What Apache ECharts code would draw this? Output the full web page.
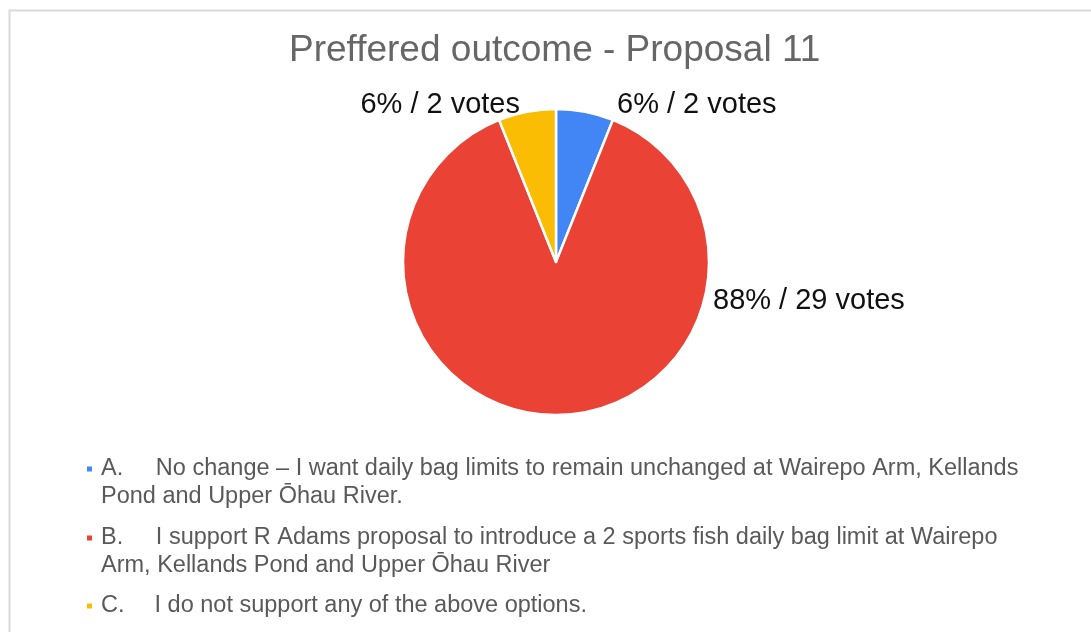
<!DOCTYPE html>
<html>
<head>
<meta charset="utf-8">
<script src="https://cdn.jsdelivr.net/npm/echarts@6/dist/echarts.min.js"></script>
<style>
  html, body { margin: 0; padding: 0; background: #fff; }
  #chart { width: 1091px; height: 632px; }
</style>
</head>
<body>
<div id="chart"></div>
<script>
// Survey answers and vote counts
const titleText = 'Preffered outcome - Proposal 11';
const optionKeys = ['A', 'B', 'C'];
const optionTexts = [
  'A.     No change \u2013 I want daily bag limits to remain unchanged at Wairepo Arm, Kellands\nPond and Upper \u014Chau River.',
  'B.     I support R Adams proposal to introduce a 2 sports fish daily bag limit at Wairepo\nArm, Kellands Pond and Upper \u014Chau River',
  'C.    \u2006I do not support any of the above options.'
];
const votes = [2, 29, 2];
const sliceColors = ['#4285F4', '#EA4335', '#FBBC04'];

const FONT = '"Liberation Sans", Arial, sans-serif';
const CX = 556, CY = 262, R = 153;
const LINE_H = 27.5;

// Where each slice label sits, relative to the pie centre
const labelSpots = [
  { dx: 61, dy: -157.5, align: 'left' },
  { dx: 157, dy: 39, align: 'left' },
  { dx: -36, dy: -157.5, align: 'right' }
];

const chart = echarts.init(document.getElementById('chart'));

// Legend entries: each one is its own block so the square marker sits on the first text line.
// A blank line is put before two-line entries so their first line is centred on the marker.
const markerCentres = [469, 538, 606];
const legends = optionKeys.map((key, i) => {
  const twoLines = optionTexts[i].indexOf('\n') >= 0;
  const shown = twoLines ? '\n' + optionTexts[i] : optionTexts[i];
  const blockH = (twoLines ? 3 : 1) * LINE_H;
  return {
    left: 85,
    top: markerCentres[i] - blockH / 2,
    padding: 0,
    orient: 'vertical',
    icon: 'rect',
    itemWidth: 7,
    itemHeight: 7,
    selectedMode: false,
    data: [key],
    formatter: () => shown,
    textStyle: {
      fontFamily: FONT,
      fontSize: 23.5,
      lineHeight: LINE_H,
      color: '#595959',
      padding: [0, 0, 0, 3]
    }
  };
});

chart.setOption({
  animation: false,
  backgroundColor: '#fff',
  title: {
    text: titleText,
    left: 289,
    top: 32,
    padding: 0,
    textStyle: {
      fontFamily: FONT,
      fontSize: 37,
      fontWeight: 'normal',
      color: '#666666'
    }
  },
  graphic: [{
    type: 'rect',
    shape: { x: 9.5, y: 10.5, width: 1100, height: 640 },
    style: { fill: 'none', stroke: '#d9d9d9', lineWidth: 2 },
    silent: true
  }],
  legend: legends,
  series: [{
    type: 'pie',
    center: [CX, CY],
    radius: R,
    startAngle: 90,
    clockwise: true,
    percentPrecision: 0,
    avoidLabelOverlap: false,
    itemStyle: { borderColor: '#ffffff', borderWidth: 2.5 },
    label: {
      show: true,
      position: 'outside',
      formatter: '{d}% / {c} votes',
      fontFamily: FONT,
      fontSize: 29,
      color: '#111111'
    },
    labelLine: { show: false },
    labelLayout: (p) => {
      const s = labelSpots[p.dataIndex];
      return { x: CX + s.dx, y: CY + s.dy, align: s.align, verticalAlign: 'middle' };
    },
    emphasis: { disabled: true },
    data: optionKeys.map((k, i) => ({
      name: k,
      value: votes[i],
      itemStyle: { color: sliceColors[i] }
    }))
  }]
});
</script>
</body>
</html>
